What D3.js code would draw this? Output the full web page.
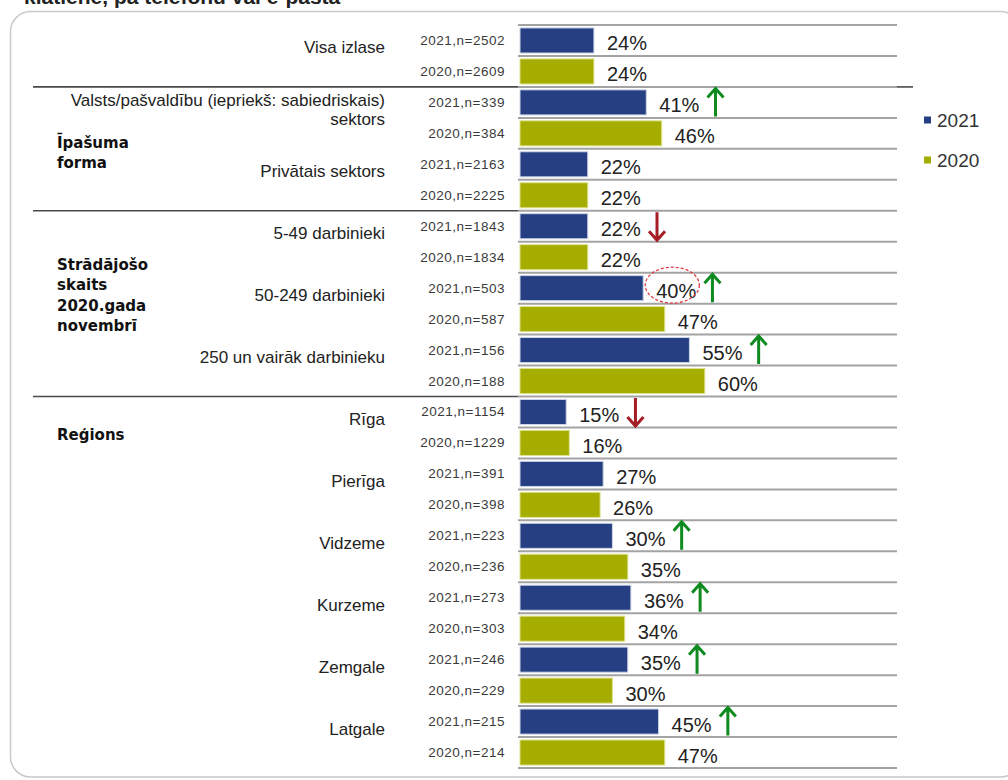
<!DOCTYPE html>
<html>
<head>
<meta charset="utf-8">
<script src="https://cdn.jsdelivr.net/npm/d3@7"></script>
<style>
  html, body { margin: 0; padding: 0; background: #fff; }
  svg { display: block; }
</style>
</head>
<body>
<svg id="chart" width="1008" height="780"></svg>
<script>
// Share of companies (%), 2021 vs 2020, by breakdown
const categories = [
  "Visa izlase",
  "Valsts/pašvaldību (iepriekš: sabiedriskais)|sektors",
  "Privātais sektors",
  "5-49 darbinieki",
  "50-249 darbinieki",
  "250 un vairāk darbinieku",
  "Rīga",
  "Pierīga",
  "Vidzeme",
  "Kurzeme",
  "Zemgale",
  "Latgale"
];
const years = ["2021", "2020"];
const values2021 = [24, 41, 22, 22, 40, 55, 15, 27, 30, 36, 35, 45];
const values2020 = [24, 46, 22, 22, 47, 60, 16, 26, 35, 34, 30, 47];
const n2021 = [2502, 339, 2163, 1843, 503, 156, 1154, 391, 223, 273, 246, 215];
const n2020 = [2609, 384, 2225, 1834, 587, 188, 1229, 398, 236, 303, 229, 214];
// Statistically significant change of the 2021 value
const change2021 = [null, "up", null, "down", "up", "up", "down", null, "up", "up", "up", "up"];
const flagged2021 = ["50-249 darbinieki"];
const groupTitles = [[], ["Īpašuma", "forma"], ["Strādājošo", "skaits", "2020.gada", "novembrī"], ["Reģions"]];
const groupOfCategory = [0, 1, 1, 2, 2, 2, 3, 3, 3, 3, 3, 3];
const title = "klātienē, pa telefonu vai e-pastā";

const colors = { "2021": "#253f82", "2020": "#a5ad00" };
const barStroke = { "2021": "#cdd5e6", "2020": "#dfe28e" };
const upColor = "#0f8a1f", downColor = "#a51d25";

const svg = d3.select("#chart");

// rows: two bars per category
const rows = [];
categories.forEach((c, i) => {
  rows.push({ cat: i, year: "2021", value: values2021[i], n: n2021[i] });
  rows.push({ cat: i, year: "2020", value: values2020[i], n: n2020[i] });
});
const rowKey = d => d.cat + "-" + d.year;

const y = d3.scaleBand()
  .domain(rows.map(rowKey))
  .range([25, 768])
  .paddingInner(0.19)
  .paddingOuter(0.095);
const step = y.step();
const rowTop = d => y(rowKey(d)) - y.paddingOuter() * step;
const x = d3.scaleLinear().domain([0, 100]).range([520, 828]);

// outer frame
svg.append("rect")
  .attr("x", 10.5).attr("y", 11.5)
  .attr("width", 1010).attr("height", 765.5)
  .attr("rx", 20)
  .attr("fill", "none").attr("stroke", "#c9c9c9").attr("stroke-width", 1.5);

// title line, running off the top edge
svg.append("text")
  .attr("x", 24).attr("y", 4)
  .attr("font-family", "Liberation Sans, Arial, sans-serif")
  .attr("font-weight", "bold").attr("font-size", 21)
  .attr("fill", "#222")
  .text(title);

// row gridlines
const bounds = d3.range(rows.length + 1).map(i => 25 + i * step);
svg.append("g").selectAll("line")
  .data(bounds).join("line")
  .attr("x1", 518).attr("x2", 897)
  .attr("y1", d => d).attr("y2", d => d)
  .attr("stroke", "#a3a3a3").attr("stroke-width", 2);

// section separators on the label side
const sectionStarts = [];
groupOfCategory.forEach((g, i) => { if (i > 0 && g !== groupOfCategory[i - 1]) sectionStarts.push(i); });
svg.append("g").selectAll("line")
  .data(sectionStarts).join("line")
  .attr("x1", 33).attr("x2", 518)
  .attr("y1", i => 25 + i * 2 * step).attr("y2", i => 25 + i * 2 * step)
  .attr("stroke", "#4a4a4a").attr("stroke-width", 1.6);
svg.append("line")
  .attr("x1", 897).attr("x2", 913)
  .attr("y1", 25 + sectionStarts[0] * 2 * step).attr("y2", 25 + sectionStarts[0] * 2 * step)
  .attr("stroke", "#4a4a4a").attr("stroke-width", 1.6);

// bars
svg.append("g").selectAll("rect")
  .data(rows).join("rect")
  .attr("x", x(0))
  .attr("y", d => y(rowKey(d)))
  .attr("width", d => x(d.value) - x(0))
  .attr("height", y.bandwidth())
  .attr("fill", d => colors[d.year])
  .attr("stroke", d => barStroke[d.year]).attr("stroke-width", 1);

// value labels
const valueLabels = svg.append("g").selectAll("text")
  .data(rows).join("text")
  .attr("x", d => x(d.value) + 13)
  .attr("y", d => y(rowKey(d)) + y.bandwidth() / 2 + 3)
  .attr("dominant-baseline", "central")
  .attr("font-family", "Liberation Sans, Arial, sans-serif")
  .attr("font-size", 20)
  .attr("fill", "#222")
  .text(d => d.value + "%");

// year / sample size labels
svg.append("g").selectAll("text")
  .data(rows).join("text")
  .attr("x", 505)
  .attr("y", d => y(rowKey(d)) + y.bandwidth() / 2)
  .attr("dominant-baseline", "central")
  .attr("text-anchor", "end")
  .attr("font-family", "Liberation Sans, Arial, sans-serif")
  .attr("font-size", 13.5)
  .attr("letter-spacing", 0.5)
  .attr("fill", "#3a3a3a")
  .text(d => d.year + ",n=" + d.n);

// category labels
const catG = svg.append("g")
  .attr("font-family", "Liberation Sans, Arial, sans-serif")
  .attr("font-size", 17).attr("fill", "#222").attr("text-anchor", "end");
categories.forEach((c, i) => {
  const lines = c.split("|");
  const center = 25 + (2 * i + 1) * step - 8;
  const lh = 19;
  lines.forEach((ln, k) => {
    catG.append("text")
      .attr("x", 385)
      .attr("y", center + (k - (lines.length - 1) / 2) * lh)
      .attr("dominant-baseline", "central")
      .text(ln);
  });
});

// group titles
const groupAnchorRow = [0, 3.81, 7.75, 13.25];
const grpG = svg.append("g")
  .attr("font-family", "DejaVu Sans, sans-serif")
  .attr("font-weight", "bold").attr("font-size", 15).attr("fill", "#111");
groupTitles.forEach((lines, g) => {
  lines.forEach((ln, k) => {
    grpG.append("text")
      .attr("x", 57)
      .attr("y", 25 + groupAnchorRow[g] * step + k * 20.5)
      .attr("dominant-baseline", "central")
      .text(ln);
  });
});

// change arrows next to the 2021 labels
const labelNodes = valueLabels.nodes();
rows.forEach((d, r) => {
  if (d.year !== "2021") return;
  const dir = change2021[d.cat];
  const node = labelNodes[r];
  const bb = node.getBBox();
  if (flagged2021.includes(categories[d.cat])) {
    svg.append("ellipse")
      .attr("cx", bb.x + bb.width / 2 - 4)
      .attr("cy", rowTop(d) + step / 2 - 3)
      .attr("rx", 27).attr("ry", 18)
      .attr("fill", "none").attr("stroke", "#e23a42")
      .attr("stroke-width", 1.3).attr("stroke-dasharray", "3,2");
  }
  if (!dir) return;
  const ax = bb.x + bb.width + 16;
  const top = rowTop(d) + 1.5, bottom = rowTop(d) + step - 1.5;
  const col = dir === "up" ? upColor : downColor;
  const tip = dir === "up" ? top : bottom;
  const s = dir === "up" ? 1 : -1;
  const path = d3.path();
  path.moveTo(ax, dir === "up" ? bottom : top);
  path.lineTo(ax, tip);
  path.moveTo(ax - 8, tip + s * 9);
  path.lineTo(ax, tip);
  path.lineTo(ax + 8, tip + s * 9);
  svg.append("path")
    .attr("d", path.toString())
    .attr("fill", "none").attr("stroke", col)
    .attr("stroke-width", 3).attr("stroke-linecap", "butt").attr("stroke-linejoin", "miter");
});

// legend
const legend = svg.append("g");
years.forEach((yr, i) => {
  const cy = 120 + i * 40;
  legend.append("rect")
    .attr("x", 924).attr("y", cy - 3.5).attr("width", 7).attr("height", 7)
    .attr("fill", colors[yr]);
  legend.append("text")
    .attr("x", 937).attr("y", cy)
    .attr("dominant-baseline", "central")
    .attr("font-family", "Liberation Sans, Arial, sans-serif")
    .attr("font-size", 19).attr("fill", "#333")
    .text(yr);
});
</script>
</body>
</html>
